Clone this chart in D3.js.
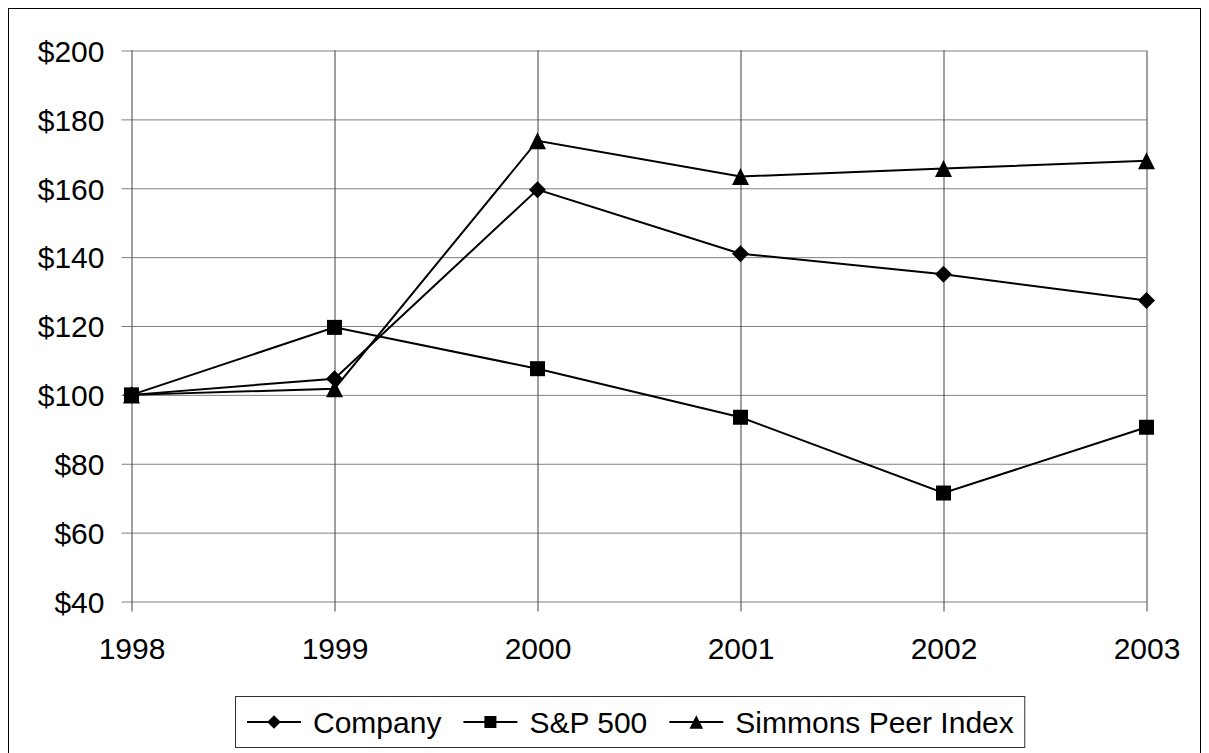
<!DOCTYPE html>
<html>
<head>
<meta charset="utf-8">
<script src="https://cdn.jsdelivr.net/npm/d3@7"></script>
<style>
  body { margin: 0; background: #fff; }
  text { font-family: "Liberation Sans", Arial, sans-serif; fill: #000; }
</style>
</head>
<body>
<svg id="chart" width="1209" height="753"></svg>
<script>
const years = ["1998", "1999", "2000", "2001", "2002", "2003"];
const company = [100, 104.7, 159.6, 141.0, 135.0, 127.4];
const sp500 = [100, 119.6, 107.6, 93.5, 71.5, 90.6];
const simmons = [100, 101.8, 173.8, 163.4, 165.7, 168.0];
const seriesNames = ["Company", "S&P 500", "Simmons Peer Index"];
const seriesSymbols = ["diamond", "square", "triangle"];
const yTicks = [40, 60, 80, 100, 120, 140, 160, 180, 200];

const svg = d3.select("#chart");
svg.append("rect").attr("width", 1209).attr("height", 753).attr("fill", "#fff");
// outer chart frame
svg.append("rect").attr("x", 8.5).attr("y", 8.5).attr("width", 1192).attr("height", 770)
  .attr("fill", "none").attr("stroke", "#000").attr("stroke-width", 1);

const x = d3.scalePoint().domain(years).range([131.5, 1146.5]);
const y = d3.scaleLinear().domain([40, 200]).range([601.5, 50.5]);

// horizontal gridlines + y ticks
const yAxis = d3.axisLeft(y).tickValues(yTicks).tickSize(-(1146.5 - 131.5)).tickSizeOuter(0)
  .tickFormat(d => "$" + d);
const gy = svg.append("g").attr("transform", "translate(131.5,0)").call(yAxis);
gy.select(".domain").remove();
gy.selectAll(".tick line").attr("stroke", "#808080").attr("x1", -10);
gy.selectAll(".tick text").attr("font-size", 30).attr("x", -27).attr("dy", "0.36em");

// vertical gridlines + x ticks
const xAxis = d3.axisBottom(x).tickSize(-(601.5 - 50.5)).tickSizeOuter(0);
const gx = svg.append("g").attr("transform", "translate(0,601.5)").call(xAxis);
gx.select(".domain").remove();
gx.selectAll(".tick line").attr("stroke", "#404040").attr("y1", 10);
gx.selectAll(".tick text").attr("font-size", 30).attr("y", 57).attr("dy", 0);

function markerPath(type, s) {
  const h = s / 2;
  if (type === "diamond") return `M0,${-h}L${h},0L0,${h}L${-h},0Z`;
  if (type === "square") return `M${-h},${-h}H${h}V${h}H${-h}Z`;
  return `M0,${-h}L${h},${h}L${-h},${h}Z`;
}
const markerSize = { diamond: 17, square: 15, triangle: 17 };

const allSeries = [company, sp500, simmons];
const line = d3.line().x((d, i) => x(years[i])).y(d => y(d));

allSeries.forEach(vals => {
  svg.append("path").datum(vals).attr("d", line)
    .attr("fill", "none").attr("stroke", "#000").attr("stroke-width", 2);
});
allSeries.forEach((vals, si) => {
  const t = seriesSymbols[si];
  svg.append("g").selectAll("path").data(vals).join("path")
    .attr("d", markerPath(t, markerSize[t]))
    .attr("transform", (d, i) => `translate(${x(years[i])},${y(d)})`)
    .attr("fill", "#000");
});

// legend
const legend = svg.append("g");
const legendBox = legend.append("rect").attr("x", 235.5).attr("y", 696.5).attr("height", 51)
  .attr("fill", "#fff").attr("stroke", "#333").attr("stroke-width", 1);
let cx = 247;
seriesNames.forEach((name, i) => {
  const t = seriesSymbols[i];
  const g = legend.append("g").attr("transform", `translate(${cx},722)`);
  g.append("line").attr("x1", 0).attr("x2", 54).attr("stroke", "#000").attr("stroke-width", 2);
  g.append("path").attr("d", markerPath(t, markerSize[t] * 0.8)).attr("transform", "translate(27,0)").attr("fill", "#000");
  const txt = g.append("text").attr("x", 66).attr("y", 11).attr("font-size", 30).text(name);
  cx += 66 + txt.node().getComputedTextLength() + 22;
});
legendBox.attr("width", cx - 22 + 11 - 235.5);
</script>
</body>
</html>
